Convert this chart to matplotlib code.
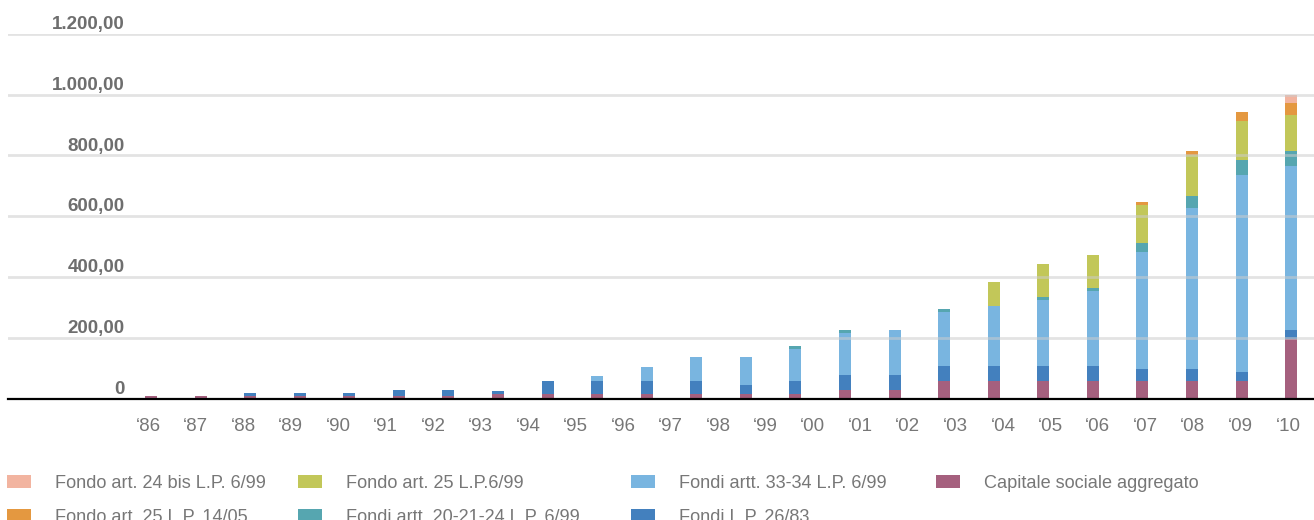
import numpy as np
import matplotlib
matplotlib.use('Agg')
import matplotlib.pyplot as plt
from matplotlib.patches import Patch
import matplotlib.transforms as mtransforms

plt.rcParams['font.family'] = ['Liberation Sans', 'DejaVu Sans']

# x labels (25 years) - the bars are 24 and drawn on their own scale
years = ['\u201886', '\u201887', '\u201888', '\u201889', '\u201890', '\u201891', '\u201892',
         '\u201893', '\u201894', '\u201895', '\u201896', '\u201897', '\u201898', '\u201899',
         '\u201800', '\u201801', '\u201802', '\u201803', '\u201804', '\u201805', '\u201806',
         '\u201807', '\u201808', '\u201809', '\u201810']

capitale = [7, 7, 7, 7, 7, 7, 7, 16, 16, 16, 16, 16, 16, 16, 28, 28, 58, 58, 58, 58, 58, 58, 58, 196]
fondi_2683 = [0, 0, 10, 10, 10, 20, 20, 10, 40, 40, 40, 40, 30, 40, 49, 49, 49, 49, 49, 49, 39, 39, 29, 30]
fondi_3334 = [0, 0, 0, 0, 0, 0, 0, 0, 0, 19, 49, 79, 89, 108, 139, 148, 178, 198, 217, 247, 385, 530, 649, 540]
fondi_202124 = [0, 0, 0, 0, 0, 0, 0, 0, 0, 0, 0, 0, 0, 10, 9, 0, 10, 0, 10, 10, 30, 40, 50, 49]
fondo_25_699 = [0, 0, 0, 0, 0, 0, 0, 0, 0, 0, 0, 0, 0, 0, 0, 0, 0, 79, 109, 108, 125, 135, 128, 119]
fondo_25_1405 = [0, 0, 0, 0, 0, 0, 0, 0, 0, 0, 0, 0, 0, 0, 0, 0, 0, 0, 0, 0, 10, 13, 30, 40]
fondo_24bis = [0, 0, 0, 0, 0, 0, 0, 0, 0, 0, 0, 0, 0, 0, 0, 0, 0, 0, 0, 0, 0, 0, 0, 26]

yticks = [0, 200, 400, 600, 800, 1000, 1200]
ytick_labels = ['0', '200,00', '400,00', '600,00', '800,00', '1.000,00', '1.200,00']

series = [
    (capitale, 'Capitale sociale aggregato', '#a5607e'),
    (fondi_2683, 'Fondi L.P. 26/83', '#4380be'),
    (fondi_3334, 'Fondi artt. 33-34 L.P. 6/99', '#79b5e0'),
    (fondi_202124, 'Fondi artt. 20-21-24 L.P. 6/99', '#56a6b0'),
    (fondo_25_699, 'Fondo art. 25 L.P.6/99', '#c2c759'),
    (fondo_25_1405, 'Fondo art. 25 L.P. 14/05', '#e49840'),
    (fondo_24bis, 'Fondo art. 24 bis L.P. 6/99', '#f2b4a0'),
]

fig = plt.figure(figsize=(13.14, 5.2), dpi=100)
ax = fig.add_axes([8 / 1314, 121.5 / 520, 1306 / 1314, 364.5 / 520])

x = np.arange(len(capitale))
bottom = np.zeros(len(x))
for vals, lab, col in series:
    ax.bar(x, vals, width=0.242, bottom=bottom, color=col, zorder=2, linewidth=0)
    bottom += np.array(vals)

ax.set_xlim(-2.885, 23.46)
ax.set_ylim(0, 1200)
ax.set_xticks([])
ax.set_yticks(yticks)
ax.tick_params(axis='y', length=0, labelleft=False)
for y in yticks[1:]:
    ax.axhline(y, color='#cccccc', alpha=0.55, lw=2, zorder=3)
for s in ['top', 'right', 'left']:
    ax.spines[s].set_visible(False)
ax.spines['bottom'].set_color('black')
ax.spines['bottom'].set_linewidth(1.6)
ax.spines['bottom'].set_zorder(4)

trans = mtransforms.blended_transform_factory(ax.transAxes, ax.transData)
for y, lab in zip(yticks, ytick_labels):
    ax.text(0.0895, y + 3, lab, transform=trans, ha='right', va='bottom',
            fontsize=13.5, fontweight='bold', color='#6e6e6e')

# year labels on their own scale
ax2 = ax.twiny()
ax2.set_xlim(-2.947, 24.55)
ax2.set_xticks(np.arange(len(years)))
ax2.set_xticklabels(years)
ax2.xaxis.set_ticks_position('bottom')
ax2.xaxis.set_label_position('bottom')
ax2.tick_params(axis='x', length=0, pad=14, labelsize=13.5, labelcolor='#777777')
for s in ax2.spines.values():
    s.set_visible(False)

# legend, one block per column
cols = [
    [series[6], series[5]],
    [series[4], series[3]],
    [series[2], series[1]],
    [series[0]],
]
col_x = [7 / 1314, 298 / 1314, 631 / 1314, 936 / 1314]
for cx, entries in zip(col_x, cols):
    handles = [Patch(facecolor=c, edgecolor='none') for _, _, c in entries]
    labels = [l for _, l, _ in entries]
    leg = fig.legend(handles, labels, loc='upper left', bbox_to_anchor=(cx, 1 - 475 / 520),
                     frameon=False, fontsize=13.1, handlelength=1.32, handleheight=0.66,
                     handletextpad=1.32, labelspacing=0.93, borderaxespad=0, borderpad=0)
    for t in leg.get_texts():
        t.set_color('#777777')

fig.savefig('out.png', dpi=100)
